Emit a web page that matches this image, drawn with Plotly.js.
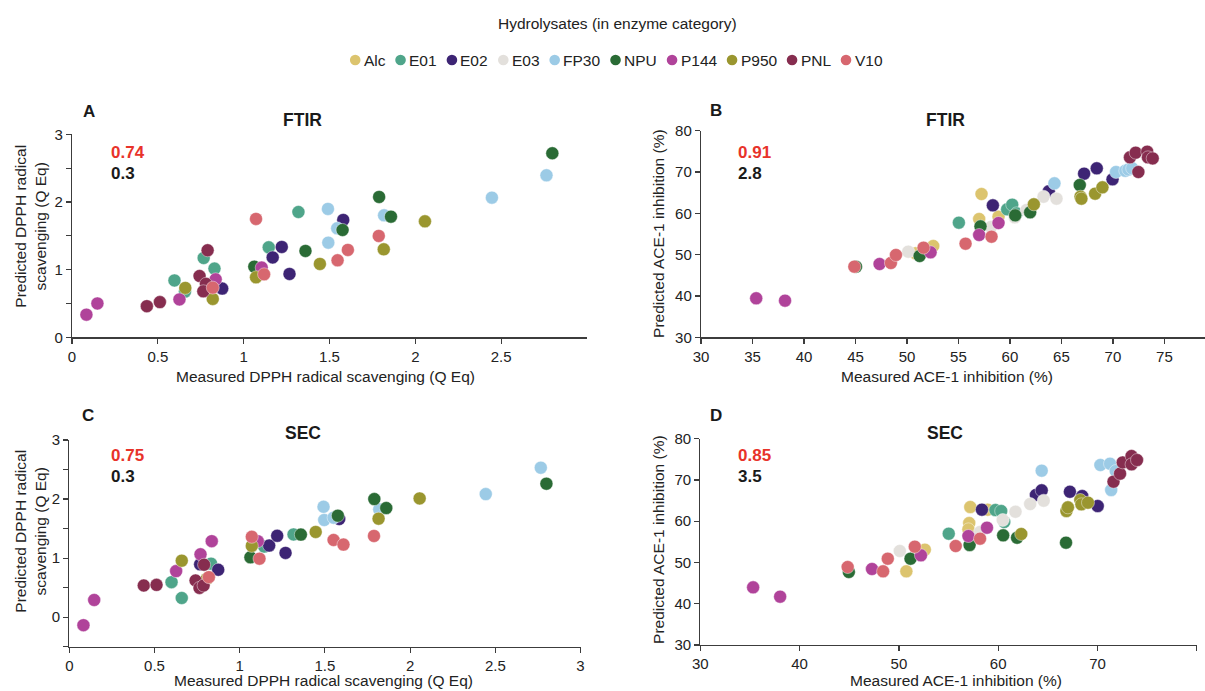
<!DOCTYPE html>
<html>
<head>
<meta charset="utf-8">
<script src="https://cdn.plot.ly/plotly-3.0.1.min.js"></script>
<style>
  html, body { margin: 0; padding: 0; background: #ffffff; }
  #chart { width: 1205px; height: 691px; }
</style>
</head>
<body>
<div id="chart"></div>
<script>
// Enzyme categories and their colours
const enzymes = ['Alc', 'E01', 'E02', 'E03', 'FP30', 'NPU', 'P144', 'P950', 'PNL', 'V10'];
const enzymeColors = ['#dcc46e', '#4fa58a', '#3d2474', '#e3e0dc', '#9ccbe6', '#2a6b35', '#b0439a', '#9a962f', '#862d4f', '#d7676f'];

// A - FTIR model, DPPH radical scavenging (Q Eq)
const ftirDpphGroup = [
  'E01','E01','E01','E01','E01','E01',
  'E02','E02','E02','E02','E02',
  'FP30','FP30','FP30','FP30','FP30','FP30',
  'NPU','NPU','NPU','NPU','NPU','NPU',
  'P144','P144','P144','P144','P144',
  'P950','P950','P950','P950','P950','P950',
  'PNL','PNL','PNL','PNL','PNL','PNL',
  'V10','V10','V10','V10','V10','V10'
];
const ftirDpphMeasured = [
  0.597, 0.658, 0.767, 0.830, 1.146, 1.319,
  0.875, 1.169, 1.222, 1.267, 1.580,
  1.491, 1.545, 1.493, 1.818, 2.446, 2.764,
  1.062, 1.360, 1.576, 1.789, 1.858, 2.798,
  0.084, 0.148, 0.626, 0.837, 1.105,
  0.660, 0.820, 1.072, 1.444, 1.816, 2.056,
  0.436, 0.512, 0.743, 0.780, 0.765, 0.790,
  0.820, 1.072, 1.119, 1.547, 1.607, 1.787
];
const ftirDpphPredicted = [
  0.840, 0.675, 1.172, 1.015, 1.330, 1.852,
  0.720, 1.180, 1.335, 0.936, 1.734,
  1.897, 1.611, 1.399, 1.803, 2.064, 2.394,
  1.044, 1.276, 1.586, 2.074, 1.783, 2.720,
  0.335, 0.500, 0.560, 0.857, 1.030,
  0.730, 0.567, 0.887, 1.084, 1.300, 1.714,
  0.460, 0.520, 0.906, 0.790, 0.680, 1.286,
  0.734, 1.749, 0.931, 1.138, 1.291, 1.498
];

// B - FTIR model, ACE-1 inhibition (%)
const ftirAceGroup = [
  'Alc','Alc','Alc','Alc','Alc',
  'E01','E01','E01','E01',
  'E02','E02','E02','E02','E02',
  'E03','E03','E03','E03','E03','E03',
  'FP30','FP30','FP30','FP30','FP30',
  'NPU','NPU','NPU','NPU','NPU','NPU',
  'P144','P144','P144','P144','P144','P144',
  'P950','P950','P950','P950','P950',
  'PNL','PNL','PNL','PNL','PNL','PNL',
  'V10','V10','V10','V10','V10','V10'
];
const ftirAceMeasured = [
  50.84, 52.55, 57.24, 57.01, 58.89,
  55.04, 59.73, 60.22, 60.64,
  58.34, 63.77, 67.20, 68.43, 69.96,
  50.13, 58.15, 60.47, 61.61, 63.26, 64.52,
  64.32, 70.30, 71.20, 71.50, 71.87,
  45.05, 51.23, 57.14, 60.51, 61.96, 66.78,
  35.36, 38.16, 47.34, 52.29, 57.01, 58.89,
  62.32, 66.85, 66.94, 68.27, 68.98,
  71.65, 72.21, 72.47, 73.33, 73.40, 73.86,
  44.89, 48.44, 48.93, 51.61, 55.69, 58.21
];
const ftirAcePredicted = [
  50.32, 52.10, 64.68, 58.63, 59.19,
  57.74, 60.97, 62.10, 60.00,
  61.93, 65.32, 69.60, 70.89, 68.23,
  50.73, 56.69, 59.03, 60.81, 64.03, 63.55,
  67.26, 70.00, 70.30, 70.60, 70.90,
  47.10, 49.68, 56.85, 59.51, 60.24, 66.85,
  39.44, 38.87, 47.74, 50.56, 54.76, 57.66,
  62.18, 64.03, 63.55, 64.76, 66.29,
  73.55, 74.68, 70.00, 74.92, 73.55, 73.30,
  47.10, 47.98, 49.92, 51.69, 52.66, 54.35
];

// C - SEC model, DPPH radical scavenging (Q Eq)
const secDpphGroup = [
  'E01','E01','E01','E01','E01',
  'E02','E02','E02','E02','E02','E02',
  'FP30','FP30','FP30','FP30','FP30','FP30',
  'NPU','NPU','NPU','NPU','NPU','NPU',
  'P144','P144','P144','P144','P144','P144',
  'P950','P950','P950','P950','P950','P950',
  'PNL','PNL','PNL','PNL','PNL','PNL',
  'V10','V10','V10','V10','V10','V10'
];
const secDpphMeasured = [
  0.600, 0.660, 0.832, 1.144, 1.316,
  0.768, 0.874, 1.173, 1.220, 1.269, 1.584,
  1.492, 1.496, 1.551, 1.819, 2.444, 2.767,
  1.063, 1.359, 1.576, 1.790, 1.860, 2.800,
  0.083, 0.146, 0.627, 0.770, 0.836, 1.106,
  0.660, 0.807, 1.071, 1.446, 1.815, 2.056,
  0.437, 0.512, 0.741, 0.764, 0.788, 0.791,
  0.819, 1.071, 1.116, 1.551, 1.609, 1.788
];
const secDpphPredicted = [
  0.593, 0.325, 0.906, 1.196, 1.401,
  0.894, 0.803, 1.213, 1.378, 1.088, 1.662,
  1.870, 1.645, 1.685, 1.825, 2.084, 2.531,
  1.014, 1.398, 1.718, 2.000, 1.848, 2.260,
  -0.136, 0.291, 0.780, 1.065, 1.287, 1.287,
  0.957, 0.650, 1.207, 1.443, 1.668, 2.011,
  0.536, 0.547, 0.621, 0.496, 0.536, 0.888,
  0.678, 1.361, 0.991, 1.307, 1.229, 1.375
];

// D - SEC model, ACE-1 inhibition (%)
const secAceGroup = [
  'Alc','Alc','Alc','Alc','Alc','Alc',
  'E01','E01','E01','E01',
  'E02','E02','E02','E02','E02','E02',
  'E03','E03','E03','E03','E03','E03',
  'FP30','FP30','FP30','FP30','FP30',
  'NPU','NPU','NPU','NPU','NPU','NPU',
  'P144','P144','P144','P144','P144','P144',
  'P950','P950','P950','P950','P950','P950',
  'PNL','PNL','PNL','PNL','PNL','PNL',
  'V10','V10','V10','V10','V10','V10'
];
const secAceMeasured = [
  50.75, 52.61, 57.19, 57.08, 57.00, 58.94,
  55.02, 59.72, 60.30, 60.61,
  58.36, 63.80, 64.38, 67.22, 68.46, 70.02,
  50.09, 58.17, 60.46, 61.74, 63.22, 64.58,
  64.38, 70.29, 71.26, 71.84, 71.38,
  44.96, 51.17, 57.12, 60.50, 61.90, 66.83,
  35.32, 38.04, 47.29, 52.22, 57.00, 58.87,
  62.32, 66.87, 67.02, 68.27, 68.38, 69.04,
  71.61, 72.27, 72.54, 73.43, 73.43, 73.98,
  44.84, 48.41, 48.88, 51.60, 55.72, 58.17
];
const secAcePredicted = [
  47.85, 53.10, 63.44, 59.56, 58.03, 62.80,
  56.98, 62.71, 62.47, 59.81,
  62.80, 66.35, 67.48, 67.14, 66.10, 63.68,
  52.78, 57.38, 60.30, 62.30, 64.17, 64.98,
  72.25, 73.62, 73.94, 72.16, 67.56,
  47.70, 50.92, 54.23, 56.57, 56.00, 54.80,
  43.97, 41.71, 48.42, 51.73, 56.41, 58.43,
  56.90, 62.47, 63.36, 65.14, 64.09, 64.50,
  69.58, 71.52, 74.26, 75.80, 73.78, 74.83,
  48.90, 47.85, 50.92, 53.83, 53.99, 55.77
];

// Model statistics written in each panel (R² and RMSE)
const panelR2 = ['0.74', '0.91', '0.75', '0.85'];
const panelRmse = ['0.3', '2.8', '0.3', '3.5'];
const panelLetters = ['A', 'B', 'C', 'D'];
const panelMethods = ['FTIR', 'FTIR', 'SEC', 'SEC'];

// ---------------------------------------------------------------
const W = 1205, H = 691;
const FONT = '"Liberation Sans", Arial, Helvetica, sans-serif';
const px = v => v / W;          // pixel -> paper x
const py = v => 1 - v / H;      // pixel -> paper y

const panels = [
  { group: ftirAceGroup,  xs: ftirAceMeasured,  ys: ftirAcePredicted,  xa: 'x2', ya: 'y2' },
  { group: ftirDpphGroup, xs: ftirDpphMeasured, ys: ftirDpphPredicted, xa: 'x',  ya: 'y'  },
  { group: secDpphGroup,  xs: secDpphMeasured,  ys: secDpphPredicted,  xa: 'x3', ya: 'y3' },
  { group: secAceGroup,   xs: secAceMeasured,   ys: secAcePredicted,   xa: 'x4', ya: 'y4' }
];

const traces = [];
panels.forEach(p => {
  enzymes.forEach((name, k) => {
    const xs = [], ys = [];
    p.group.forEach((g, i) => { if (g === name) { xs.push(p.xs[i]); ys.push(p.ys[i]); } });
    if (!xs.length) return;
    traces.push({
      type: 'scatter', mode: 'markers', name: name,
      x: xs, y: ys, xaxis: p.xa, yaxis: p.ya,
      showlegend: false, hoverinfo: 'x+y+name',
      marker: { color: enzymeColors[k], size: 13, line: { color: 'rgba(255,255,255,0.7)', width: 0.6 } }
    });
  });
});

const axisBase = {
  showline: true, linecolor: '#3c3c3c', linewidth: 1.2,
  ticks: 'outside', ticklen: 5, tickwidth: 1.2, tickcolor: '#3c3c3c',
  showgrid: false, zeroline: false, fixedrange: true,
  tickfont: { family: FONT, size: 15, color: '#222' }
};
const ax = (o) => Object.assign({}, axisBase, o);

const dpphYVals = [-0.5, 0, 0.5, 1, 1.5, 2, 2.5, 3];
const dpphYText = ['', '0', '', '1', '', '2', '', '3'];

const layout = {
  width: W, height: H,
  margin: { l: 0, r: 0, t: 0, b: 0 },
  paper_bgcolor: '#ffffff', plot_bgcolor: 'rgba(0,0,0,0)',
  showlegend: false,
  font: { family: FONT, color: '#222' },
  // A
  xaxis: ax({ domain: [px(72), px(587)], range: [0, 3], anchor: 'y',
    tickvals: [0, 0.5, 1, 1.5, 2, 2.5], ticktext: ['0', '0.5', '1', '1.5', '2', '2.5'] }),
  yaxis: ax({ domain: [py(337.3), py(134.3)], range: [0, 3], anchor: 'x',
    tickvals: dpphYVals.slice(1), ticktext: dpphYText.slice(1) }),
  // B
  xaxis2: ax({ domain: [px(701), 1], range: [30, 78.94], anchor: 'y2',
    tickvals: [30, 35, 40, 45, 50, 55, 60, 65, 70, 75] }),
  yaxis2: ax({ domain: [py(337.3), py(130.7)], range: [30, 80], anchor: 'x2',
    tickvals: [30, 40, 50, 60, 70, 80] }),
  // C
  xaxis3: ax({ domain: [px(69.3), px(580.5)], range: [0, 3], anchor: 'y3',
    tickvals: [0, 0.5, 1, 1.5, 2, 2.5, 3], ticktext: ['0', '0.5', '1', '1.5', '2', '2.5', '3'] }),
  yaxis3: ax({ domain: [py(646.7), py(440)], range: [-0.5, 3], anchor: 'x3',
    tickvals: dpphYVals, ticktext: dpphYText }),
  // D
  xaxis4: ax({ domain: [px(700.3), px(1196.8)], range: [30, 80], anchor: 'y4',
    tickvals: [30, 40, 50, 60, 70, 80] }),
  yaxis4: ax({ domain: [py(645), py(438.7)], range: [30, 80], anchor: 'x4',
    tickvals: [30, 40, 50, 60, 70, 80] }),
  annotations: [],
  shapes: []
};

const ann = (text, x, y, o) => Object.assign({
  text: text, xref: 'paper', yref: 'paper', x: px(x), y: py(y),
  showarrow: false, xanchor: 'center', yanchor: 'middle',
  font: { family: FONT, size: 15.5, color: '#222' }
}, o || {});

// Panel letters, method titles and model statistics
const letterPos = [[88.6, 111.7], [716, 110], [88, 415], [716, 415]];
const methodPos = [[302.7, 120], [945.7, 120], [303, 433], [945.3, 433]];
const statPos = [[109, 152.7, 174], [735.8, 152.7, 174], [109, 455, 477], [735.8, 455, 477]];
for (let i = 0; i < 4; i++) {
  layout.annotations.push(ann('<b>' + panelLetters[i] + '</b>', letterPos[i][0], letterPos[i][1],
    { font: { family: FONT, size: 17, color: '#1a1a1a' } }));
  layout.annotations.push(ann('<b>' + panelMethods[i] + '</b>', methodPos[i][0], methodPos[i][1],
    { font: { family: FONT, size: 17.5, color: '#1a1a1a' } }));
  layout.annotations.push(ann('<b>' + panelR2[i] + '</b>', statPos[i][0], statPos[i][1],
    { xanchor: 'left', font: { family: FONT, size: 17, color: '#e8332a' } }));
  layout.annotations.push(ann('<b>' + panelRmse[i] + '</b>', statPos[i][0], statPos[i][2],
    { xanchor: 'left', font: { family: FONT, size: 17, color: '#1a1a1a' } }));
}

// Axis titles
const dpphX = 'Measured DPPH radical scavenging (Q Eq)';
const dpphY = 'Predicted DPPH radical<br>scavenging (Q Eq)';
const aceX = 'Measured ACE-1 inhibition (%)';
const aceY = 'Predicted ACE-1 inhibition (%)';
layout.annotations.push(ann(dpphX, 325.7, 376.7));
layout.annotations.push(ann(aceX, 947.2, 376.7));
layout.annotations.push(ann(dpphX, 323.4, 680.5));
layout.annotations.push(ann(aceX, 955.7, 680.5));
layout.annotations.push(ann(dpphY, 29.7, 226, { textangle: -90 }));
layout.annotations.push(ann(dpphY, 29.7, 531, { textangle: -90 }));
layout.annotations.push(ann(aceY, 657.9, 233, { textangle: -90 }));
layout.annotations.push(ann(aceY, 657.9, 539, { textangle: -90 }));

// Legend: title plus one row of coloured dots with category names
layout.annotations.push(ann('Hydrolysates (in enzyme category)', 617, 24));
const ctx = document.createElement('canvas').getContext('2d');
ctx.font = '15.5px "Liberation Sans", Arial, sans-serif';
const dotR = 5.3, dotToText = 8.5, itemGap = 15.3;
const widths = enzymes.map(n => ctx.measureText(n).width);
let total = dotR;
widths.forEach((w, i) => { total += dotToText + w + (i < widths.length - 1 ? itemGap : 0); });
let cx = 616 - total / 2 + dotR;
const legendY = 60;
enzymes.forEach((name, i) => {
  layout.shapes.push({
    type: 'circle', xref: 'paper', yref: 'paper',
    xsizemode: 'pixel', ysizemode: 'pixel',
    xanchor: px(cx), yanchor: py(legendY),
    x0: -dotR, x1: dotR, y0: -dotR, y1: dotR,
    fillcolor: enzymeColors[i], line: { width: 0 }
  });
  layout.annotations.push(ann(name, cx + dotToText, legendY, { xanchor: 'left', xshift: -2 }));
  cx += dotToText + widths[i] + itemGap;
});

Plotly.newPlot('chart', traces, layout, { displayModeBar: false, staticPlot: true });
</script>
</body>
</html>
